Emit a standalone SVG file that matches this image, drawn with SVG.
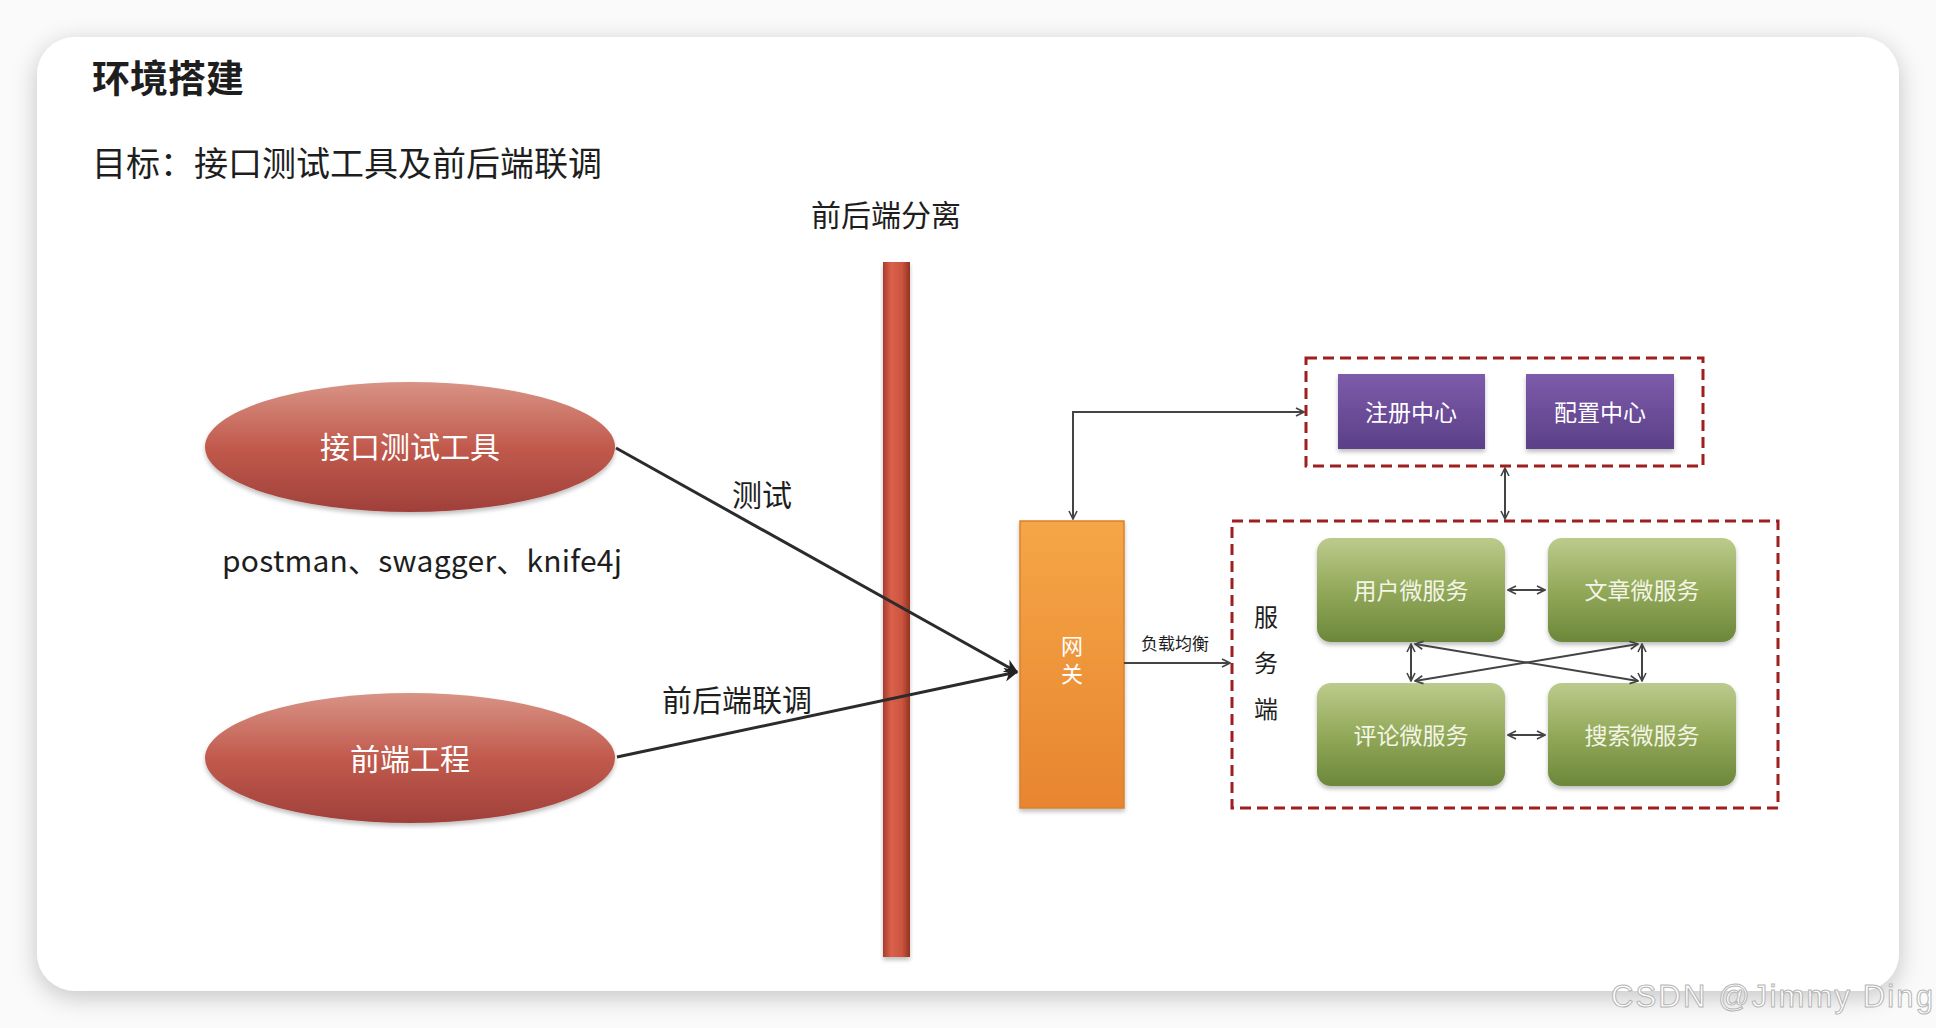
<svg xmlns="http://www.w3.org/2000/svg" width="1936" height="1028" viewBox="0 0 1936 1028">
<defs>
<filter id="shadow" x="-5%" y="-5%" width="110%" height="115%">
<feDropShadow dx="0" dy="6" stdDeviation="12" flood-color="#000" flood-opacity="0.22"/>
</filter>
<filter id="soft" x="-10%" y="-10%" width="120%" height="130%">
<feDropShadow dx="0" dy="3" stdDeviation="2" flood-color="#000" flood-opacity="0.25"/>
</filter>
<linearGradient id="ellG" x1="0" y1="0" x2="0" y2="1">
<stop offset="0" stop-color="#d89385"/>
<stop offset="0.5" stop-color="#c15a4d"/>
<stop offset="1" stop-color="#a0403a"/>
</linearGradient>
<linearGradient id="barG" x1="0" y1="0" x2="1" y2="0">
<stop offset="0" stop-color="#a93c2e"/>
<stop offset="0.3" stop-color="#d9604a"/>
<stop offset="0.7" stop-color="#cd5540"/>
<stop offset="1" stop-color="#92321f"/>
</linearGradient>
<linearGradient id="gwG" x1="0" y1="0" x2="0" y2="1">
<stop offset="0" stop-color="#f5a646"/>
<stop offset="1" stop-color="#e8852f"/>
</linearGradient>
<linearGradient id="greenG" x1="0" y1="0" x2="0" y2="1">
<stop offset="0" stop-color="#bccb8c"/>
<stop offset="0.5" stop-color="#93a95a"/>
<stop offset="1" stop-color="#6c873a"/>
</linearGradient>
<linearGradient id="purpleG" x1="0" y1="0" x2="0" y2="1">
<stop offset="0" stop-color="#7d5cab"/>
<stop offset="1" stop-color="#5b3f88"/>
</linearGradient>
<marker id="open" viewBox="0 0 10 10" refX="9" refY="5" markerWidth="10" markerHeight="10" markerUnits="userSpaceOnUse" orient="auto-start-reverse">
<path d="M1,1 L9,5 L1,9" fill="none" stroke="#444" stroke-width="1.6"/>
</marker>
<marker id="bold" viewBox="0 0 10 10" refX="9" refY="5" markerWidth="14" markerHeight="14" markerUnits="userSpaceOnUse" orient="auto">
<path d="M0,0 L10,5 L0,10 L3,5 Z" fill="#222"/>
</marker>
<style>
.cjk{font-family:"Noto Sans CJK SC","Noto Sans",sans-serif;}
.dark{fill:#1e1e1e;}
.wt{fill:#ffffff;text-anchor:middle;}
.gt{fill:#f3f5e6;text-anchor:middle;font-size:23px;}
.pt{fill:#ffffff;text-anchor:middle;font-size:23px;}
.conn{fill:none;stroke:#444;stroke-width:2;}
.main{fill:none;stroke:#2b2b2b;stroke-width:3;}
.dash{fill:none;stroke:#9e1f1f;stroke-width:3;stroke-dasharray:11 6;}
</style>
</defs>

<rect x="0" y="0" width="1936" height="1028" fill="#fafafa"/>
<rect id="card" x="37" y="37" width="1862" height="954" rx="38" ry="38" fill="#ffffff" filter="url(#shadow)"/>

<g id="title">
<text class="cjk dark" x="92" y="92" font-size="38" font-weight="bold">环境搭建</text>
<text class="cjk dark" x="92" y="176" font-size="34">目标：接口测试工具及前后端联调</text>
</g>

<g id="separator">
<text class="cjk dark" x="886" y="226" font-size="30" text-anchor="middle">前后端分离</text>
<rect x="883" y="262" width="27" height="695" fill="url(#barG)" filter="url(#soft)"/>
</g>

<g id="api-tool">
<ellipse cx="410" cy="447" rx="205" ry="65" fill="url(#ellG)" filter="url(#soft)"/>
<text class="cjk wt" x="410" y="458" font-size="30">接口测试工具</text>
</g>
<g id="tools-label">
<text class="cjk dark" x="222" y="572" font-size="30" textLength="400">postman、swagger、knife4j</text>
</g>

<g id="frontend">
<ellipse cx="410" cy="758" rx="205" ry="65" fill="url(#ellG)" filter="url(#soft)"/>
<text class="cjk wt" x="410" y="770" font-size="30">前端工程</text>
</g>

<g id="gateway">
<rect x="1020" y="521" width="104" height="287" fill="url(#gwG)" stroke="#d9822e" stroke-width="1.5" filter="url(#soft)"/>
<text class="cjk wt" x="1072" y="663" font-size="22" writing-mode="vertical-rl" letter-spacing="6">网关</text>
</g>

<g id="registry-group">
<rect x="1306" y="358" width="397" height="108" class="dash"/>
<g id="registry">
<rect x="1338" y="374" width="147" height="75" fill="url(#purpleG)" filter="url(#soft)"/>
<text class="cjk pt" x="1411" y="421">注册中心</text>
</g>
<g id="config">
<rect x="1526" y="374" width="148" height="75" fill="url(#purpleG)" filter="url(#soft)"/>
<text class="cjk pt" x="1600" y="421">配置中心</text>
</g>
</g>

<g id="services">
<rect x="1232" y="521" width="546" height="287" class="dash"/>
<text class="cjk dark" font-size="24" text-anchor="middle"><tspan x="1266" y="626">服</tspan><tspan x="1266" y="672">务</tspan><tspan x="1266" y="718">端</tspan></text>
<g id="user-svc">
<rect x="1317" y="538" width="188" height="104" rx="14" fill="url(#greenG)" filter="url(#soft)"/>
<text class="cjk gt" x="1411" y="599">用户微服务</text>
</g>
<g id="article-svc">
<rect x="1548" y="538" width="188" height="104" rx="14" fill="url(#greenG)" filter="url(#soft)"/>
<text class="cjk gt" x="1642" y="599">文章微服务</text>
</g>
<g id="comment-svc">
<rect x="1317" y="683" width="188" height="103" rx="14" fill="url(#greenG)" filter="url(#soft)"/>
<text class="cjk gt" x="1411" y="744">评论微服务</text>
</g>
<g id="search-svc">
<rect x="1548" y="683" width="188" height="103" rx="14" fill="url(#greenG)" filter="url(#soft)"/>
<text class="cjk gt" x="1642" y="744">搜索微服务</text>
</g>
</g>

<g id="connectors">
<line x1="616" y1="448" x2="1017" y2="672" class="main" marker-end="url(#bold)"/>
<line x1="617" y1="757" x2="1017" y2="672" class="main" marker-end="url(#bold)"/>
<text class="cjk dark" x="762" y="506" font-size="30" text-anchor="middle">测试</text>
<text class="cjk dark" x="737" y="711" font-size="30" text-anchor="middle">前后端联调</text>

<line x1="1124" y1="663" x2="1230" y2="663" class="conn" marker-end="url(#open)"/>
<text class="cjk dark" x="1175" y="650" font-size="17" text-anchor="middle">负载均衡</text>

<path d="M1073,519 L1073,412 L1304,412" class="conn" marker-start="url(#open)" marker-end="url(#open)"/>
<line x1="1505" y1="468" x2="1505" y2="519" class="conn" marker-start="url(#open)" marker-end="url(#open)"/>

<line x1="1508" y1="590" x2="1545" y2="590" class="conn" marker-start="url(#open)" marker-end="url(#open)"/>
<line x1="1508" y1="735" x2="1545" y2="735" class="conn" marker-start="url(#open)" marker-end="url(#open)"/>
<line x1="1411" y1="644" x2="1411" y2="681" class="conn" marker-start="url(#open)" marker-end="url(#open)"/>
<line x1="1642" y1="644" x2="1642" y2="681" class="conn" marker-start="url(#open)" marker-end="url(#open)"/>
<line x1="1415" y1="644" x2="1638" y2="681" class="conn" marker-start="url(#open)" marker-end="url(#open)"/>
<line x1="1638" y1="644" x2="1415" y2="681" class="conn" marker-start="url(#open)" marker-end="url(#open)"/>
</g>

<g id="watermark">
<text x="1611" y="1007" font-family="Liberation Sans, sans-serif" font-size="31" textLength="322" fill="#ffffff" stroke="#b5b5b5" stroke-width="1">CSDN @Jimmy Ding</text>
</g>
</svg>
